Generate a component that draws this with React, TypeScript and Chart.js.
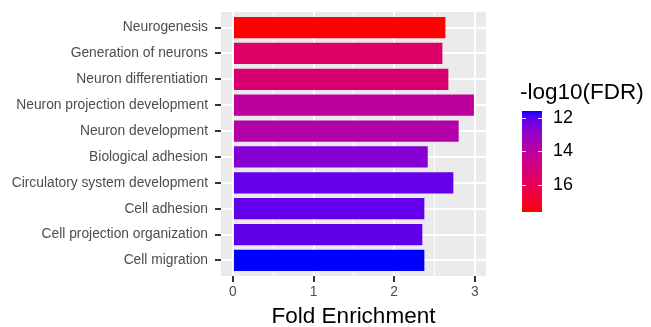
import React, { useEffect, useRef } from "react";
import { Chart, registerables } from "chart.js";

Chart.register(...registerables);

const categories = [
  "Neurogenesis",
  "Generation of neurons",
  "Neuron differentiation",
  "Neuron projection development",
  "Neuron development",
  "Biological adhesion",
  "Circulatory system development",
  "Cell adhesion",
  "Cell projection organization",
  "Cell migration",
];
const foldEnrichment = [2.636, 2.599, 2.673, 2.99, 2.801, 2.417, 2.735, 2.375, 2.35, 2.375];
const negLog10FDR = [17.62, 15.52, 15.28, 14.13, 13.83, 12.69, 12.15, 12.14, 12.12, 11.61];
const xTicks = [0, 0.5, 1, 1.5, 2, 2.5, 3];
const legendTicks = [12, 14, 16];

const FONT = "'Liberation Sans', Arial, Helvetica, sans-serif";

// ---- Lab colour interpolation (like ggplot's scale_fill_gradient) ----
const toLin = (c: number) => {
  c /= 255;
  return c <= 0.04045 ? c / 12.92 : Math.pow((c + 0.055) / 1.055, 2.4);
};
const fromLin = (c: number) => {
  c = Math.min(1, Math.max(0, c));
  const v = c <= 0.0031308 ? 12.92 * c : 1.055 * Math.pow(c, 1 / 2.4) - 0.055;
  return Math.round(Math.min(1, Math.max(0, v)) * 255);
};
const Xn = 0.95047, Yn = 1, Zn = 1.08883;
function rgbToLab(rgb: number[]) {
  const R = toLin(rgb[0]), G = toLin(rgb[1]), B = toLin(rgb[2]);
  const X = 0.4124564 * R + 0.3575761 * G + 0.1804375 * B;
  const Y = 0.2126729 * R + 0.7151522 * G + 0.072175 * B;
  const Z = 0.0193339 * R + 0.119192 * G + 0.9503041 * B;
  const f = (t: number) => (t > 216 / 24389 ? Math.cbrt(t) : ((24389 / 27) * t + 16) / 116);
  const fx = f(X / Xn), fy = f(Y / Yn), fz = f(Z / Zn);
  return [116 * fy - 16, 500 * (fx - fy), 200 * (fy - fz)];
}
function labToRgb(lab: number[]) {
  const [L, a, b] = lab;
  const fy = (L + 16) / 116, fx = fy + a / 500, fz = fy - b / 200;
  const finv = (t: number) => (t * t * t > 216 / 24389 ? t * t * t : (116 * t - 16) / (24389 / 27));
  const X = Xn * finv(fx), Y = Yn * finv(fy), Z = Zn * finv(fz);
  const R = 3.2404542 * X - 1.5371385 * Y - 0.4985314 * Z;
  const G = -0.969266 * X + 1.8760108 * Y + 0.041556 * Z;
  const B = 0.0556434 * X - 0.2040259 * Y + 1.0572252 * Z;
  return [fromLin(R), fromLin(G), fromLin(B)];
}
const lowLab = rgbToLab([0, 0, 255]);
const highLab = rgbToLab([255, 0, 0]);
const fdrMin = Math.min(...negLog10FDR);
const fdrMax = Math.max(...negLog10FDR);
function colorFor(v: number) {
  const t = (v - fdrMin) / (fdrMax - fdrMin);
  const lab = lowLab.map((l, i) => l + (highLab[i] - l) * t);
  const [r, g, b] = labToRgb(lab);
  return `rgb(${r},${g},${b})`;
}

const isMajor = (c: any) => c.tick && Number.isInteger(c.tick.value);

const overlay = {
  id: "overlay",
  beforeDraw(chart: any) {
    const { ctx, chartArea: a } = chart;
    ctx.save();
    ctx.fillStyle = "#EBEBEB";
    ctx.fillRect(a.left, a.top, a.right - a.left, a.bottom - a.top);
    ctx.restore();
  },
  afterDraw(chart: any) {
    const { ctx, chartArea: a } = chart;
    ctx.save();
    ctx.fillStyle = "#000000";
    ctx.font = `22.5px ${FONT}`;
    ctx.textAlign = "center";
    ctx.textBaseline = "alphabetic";
    ctx.fillText("Fold Enrichment", (a.left + a.right) / 2, 323);

    // colourbar legend
    ctx.textAlign = "left";
    ctx.fillText("-log10(FDR)", 520, 99);
    const barX = 522, barW = 20, barTop = 111, barH = 101;
    const grad = ctx.createLinearGradient(0, barTop, 0, barTop + barH);
    const n = 40;
    for (let i = 0; i <= n; i++) {
      const t = i / n;
      grad.addColorStop(t, colorFor(fdrMin + t * (fdrMax - fdrMin)));
    }
    ctx.fillStyle = grad;
    ctx.fillRect(barX, barTop, barW, barH);
    ctx.strokeStyle = "rgba(255,255,255,0.85)";
    ctx.lineWidth = 1;
    ctx.font = `18px ${FONT}`;
    ctx.fillStyle = "#000000";
    ctx.textBaseline = "middle";
    legendTicks.forEach((v) => {
      const y = Math.round(barTop + ((v - fdrMin) / (fdrMax - fdrMin)) * barH) + 0.5;
      ctx.beginPath();
      ctx.moveTo(barX, y);
      ctx.lineTo(barX + 4, y);
      ctx.moveTo(barX + barW - 4, y);
      ctx.lineTo(barX + barW, y);
      ctx.stroke();
      ctx.fillText(String(v), 553, y);
    });
    ctx.restore();
  },
};

export default function App() {
  const ref = useRef<HTMLCanvasElement | null>(null);
  useEffect(() => {
    if (!ref.current) return;
    const chart = new Chart(ref.current, {
      type: "bar",
      data: {
        datasets: [
          {
            data: categories.map((_, i) => ({ x: foldEnrichment[i], y: i })) as any,
            backgroundColor: negLog10FDR.map(colorFor),
            borderWidth: 0,
            barPercentage: 0.82,
            categoryPercentage: 1,
          },
        ],
      },
      options: {
        indexAxis: "y",
        animation: false,
        responsive: false,
        layout: { padding: { left: 0, right: 165, top: 12, bottom: 0 } },
        plugins: { legend: { display: false }, tooltip: { enabled: false } },
        scales: {
          y: {
            type: "linear",
            reverse: true,
            offset: false,
            min: -0.6,
            max: categories.length - 1 + 0.6,
            afterBuildTicks: (axis: any) => {
              axis.ticks = categories.map((_, i) => ({ value: i }));
            },
            afterFit: (axis: any) => {
              axis.width = 221;
              axis.paddingTop = 0;
              axis.paddingBottom = 0;
            },
            ticks: {
              autoSkip: false,
              callback: (v: any) => categories[v] ?? "",
              font: { family: FONT, size: 13.8 },
              color: "#4D4D4D",
              padding: 7,
            },
            grid: {
              offset: false,
              color: "#FFFFFF",
              lineWidth: 2,
              tickColor: "#333333",
              tickLength: 6,
              tickWidth: 2,
            } as any,
            border: { display: false },
          },
          x: {
            type: "linear",
            offset: false,
            min: -0.148,
            max: 3.14,
            afterBuildTicks: (axis: any) => {
              axis.ticks = xTicks.map((v) => ({ value: v }));
            },
            afterFit: (axis: any) => {
              axis.height = 51;
              axis.paddingLeft = 0;
              axis.paddingRight = 0;
            },
            ticks: {
              autoSkip: false,
              maxRotation: 0,
              callback: (v: any) => (Number.isInteger(v) ? String(v) : ""),
              font: { family: FONT, size: 13.8 },
              color: "#4D4D4D",
              padding: 2,
            },
            grid: {
              offset: false,
              color: "#FFFFFF",
              lineWidth: (c: any) => (isMajor(c) ? 2 : 1),
              tickColor: (c: any) => (isMajor(c) ? "#333333" : "rgba(0,0,0,0)"),
              tickLength: 6,
              tickWidth: 2,
            } as any,
            border: { display: false },
          },
        },
      },
      plugins: [overlay],
    });
    return () => chart.destroy();
  }, []);
  return (
    <div style={{ position: "fixed", left: 0, top: 0, width: 651, height: 327, background: "#FFFFFF" }}>
      <canvas ref={ref} width={651} height={327} style={{ display: "block" }} />
    </div>
  );
}
